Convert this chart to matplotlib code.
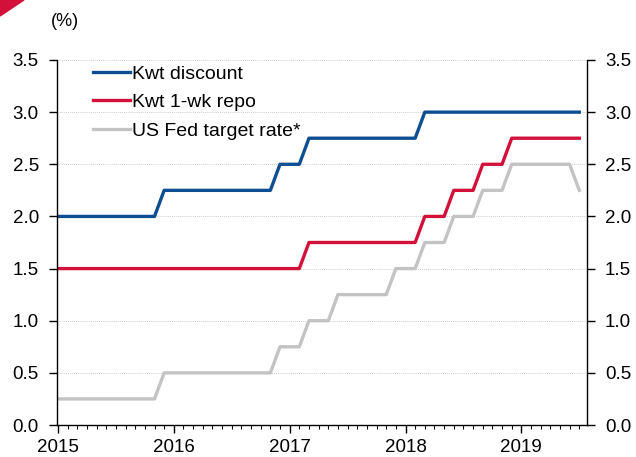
import numpy as np
import matplotlib.pyplot as plt
from matplotlib.patches import Polygon

plt.rcParams['font.family'] = ['Liberation Sans', 'DejaVu Sans']

# monthly observations, Jan 2015 .. Jul 2019 (month index 0..54)
# each rate is stored as (first month index, level) steps
discount_steps = [(0, 2.0), (11, 2.25), (23, 2.5), (26, 2.75), (38, 3.0)]
repo_steps = [(0, 1.5), (26, 1.75), (38, 2.0), (41, 2.25), (44, 2.5), (47, 2.75)]
fed_steps = [(0, 0.25), (11, 0.5), (23, 0.75), (26, 1.0), (29, 1.25), (35, 1.5),
             (38, 1.75), (41, 2.0), (44, 2.25), (47, 2.5), (54, 2.25)]
n_months = 55
years = ['2015', '2016', '2017', '2018', '2019']


def monthly(steps):
    vals = np.zeros(n_months)
    for start, level in steps:
        vals[start:] = level
    return vals


months = np.arange(n_months)
discount = monthly(discount_steps)
repo = monthly(repo_steps)
fed = monthly(fed_steps)

fig = plt.figure(figsize=(6.36, 4.57), dpi=100)
ax = fig.add_axes((57/636, 32/457, 530/636, 365/457))

ax.plot(months, discount, color='#0d4e92', lw=2.4, label='Kwt discount')
ax.plot(months, repo, color='#d2103a', lw=2.4, label='Kwt 1-wk repo')
ax.plot(months, fed, color='#c3c3c3', lw=2.4, label='US Fed target rate*')

ax.set_xlim(-0.1, 54.8)
ax.set_ylim(0, 3.5)
ax.set_yticks(np.arange(0, 3.51, 0.5))
ax.set_yticklabels([f'{v:.1f}' for v in np.arange(0, 3.51, 0.5)])
ax.set_xticks(np.arange(0, 49, 12))
ax.set_xticklabels(years)
ax.set_xticks(np.arange(0, 55, 1), minor=True)

ax.yaxis.grid(True, color='#bbbbbb', ls=(0, (1, 1.5)), lw=0.6)
ax.set_axisbelow(True)

ax.spines['top'].set_visible(False)
for s in ['left', 'right', 'bottom']:
    ax.spines[s].set_linewidth(1.0)
ax.tick_params(axis='y', which='both', direction='out', length=6, width=1,
               labelsize=13.5, left=True, right=True, labelleft=True, labelright=True, pad=7)
ax.tick_params(axis='x', which='major', direction='out', length=6, width=1, labelsize=13.5, pad=4)
ax.tick_params(axis='x', which='minor', direction='out', length=3, width=0.8)

leg = ax.legend(loc='upper left', bbox_to_anchor=(0.038, 1.028), frameon=False, fontsize=14,
                handlelength=1.9, handletextpad=0.1, labelspacing=0.55, borderpad=0.3)

fig.text(51/636, 1 - 22/457, '(%)', fontsize=13, va='center', ha='left')

# corner logo fragment
fig.patches.append(Polygon([[0, 1], [24/636, 1], [0, 1 - 16/457]], closed=True,
                           transform=fig.transFigure, color='#d2103a', figure=fig))

fig.savefig('out.png', dpi=100)
